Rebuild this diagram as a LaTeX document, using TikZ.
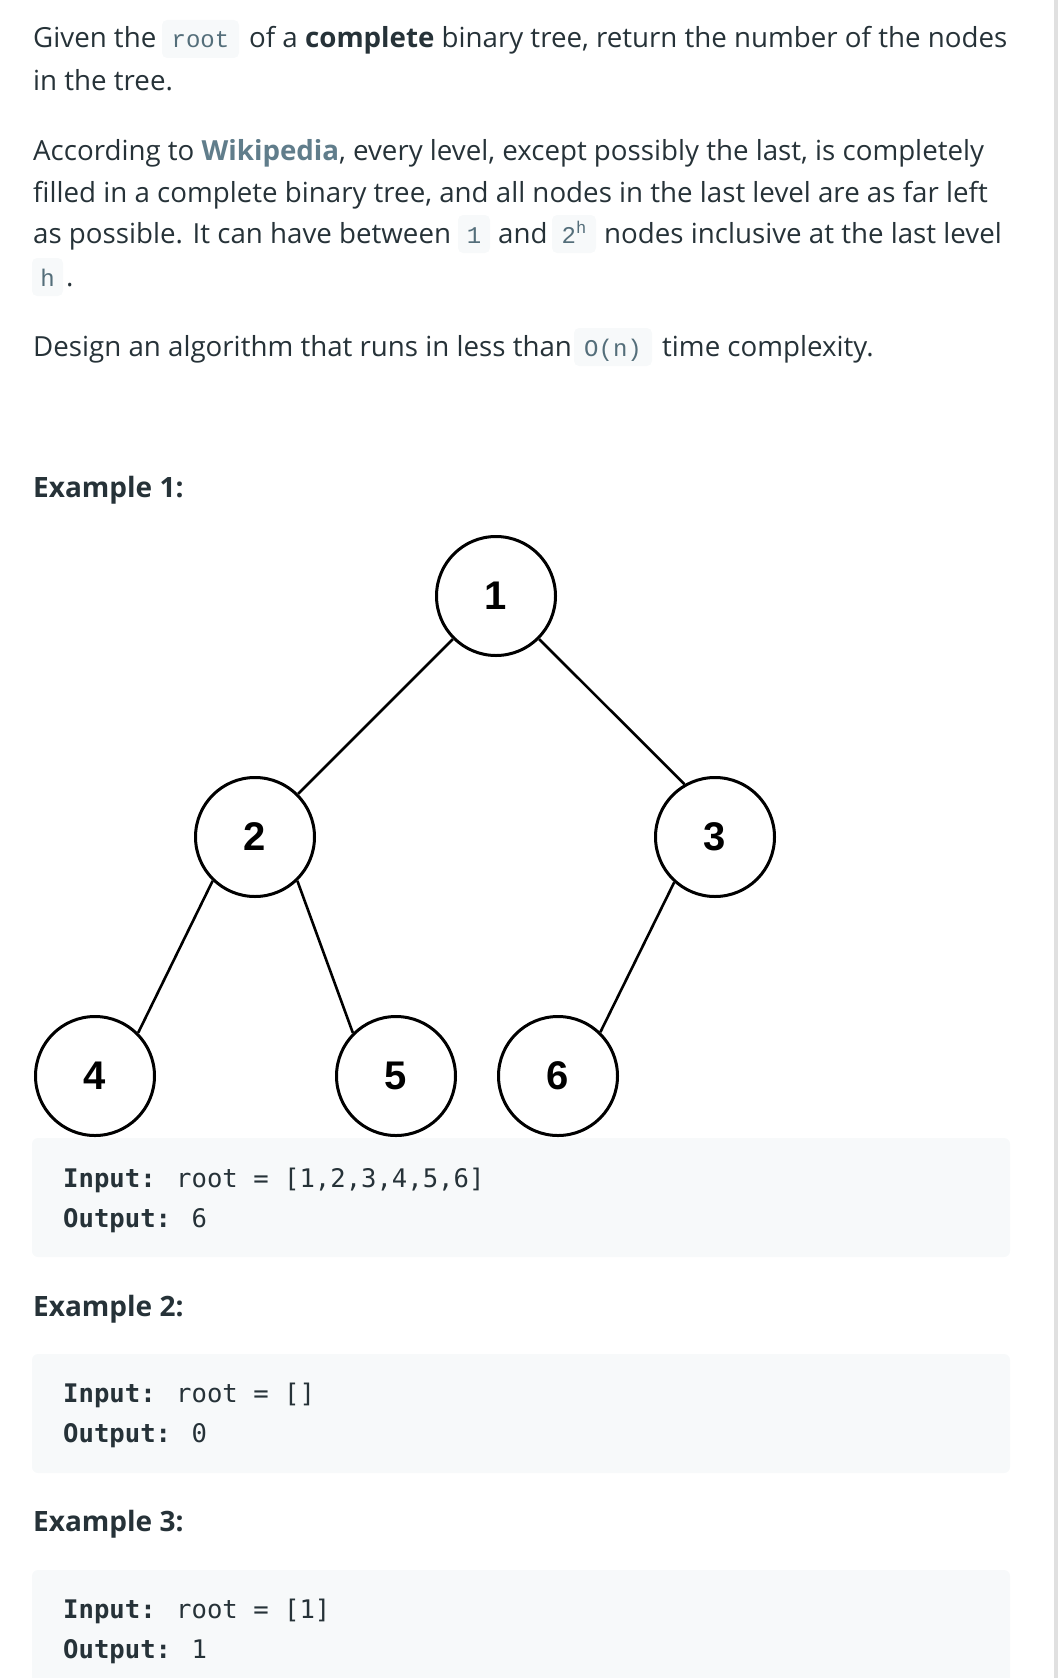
\documentclass[tikz,border=0pt]{standalone}
\usepackage{fontspec}
\usepackage{tikz}
\usetikzlibrary{calc}
\newfontfamily\bodyfont{Open Sans}
\newfontfamily\labelfont{Liberation Sans}
\newfontfamily\blockfont{DejaVu Sans Mono}
\newfontfamily\inlinefont{Liberation Mono}
\definecolor{textcol}{HTML}{263238}
\definecolor{linkcol}{HTML}{607D8B}
\definecolor{inlinecol}{HTML}{546E7A}
\definecolor{codebg}{HTML}{F7F9FA}
\definecolor{barcol}{HTML}{E0E0E0}
\tikzset{
	body/.style={anchor=base west, inner sep=0pt, text=textcol, font=\bodyfont\fontsize{27.7}{30}\selectfont},
	heading/.style={body, font=\bodyfont\bfseries\fontsize{28}{30}\selectfont},
	inlinecode/.style={anchor=base, inner sep=0pt, text=inlinecol, font=\inlinefont\fontsize{24}{26}\selectfont},
	blockcode/.style={anchor=base west, inner sep=0pt, text=textcol, font=\blockfont\fontsize{25.6}{30}\selectfont},
	treenode/.style={circle, draw=black, line width=3pt, minimum size=119pt, inner sep=0pt, font=\labelfont\bfseries\fontsize{40}{40}\selectfont},
	treeedge/.style={draw=black, line width=2.6pt}
}
\newcommand{\drawInlineCode}[5]{
	\fill[codebg, rounded corners=5pt] (#1,#3-28) rectangle (#2,#3+10);
	\node[inlinecode] (#5) at ({(#1+#2)/2},#3) {#4};
}
\newcommand{\drawCodeBlock}[2]{
	\fill[codebg, rounded corners=6pt] (32,#1) rectangle (1010,#2);
}
\newcommand{\drawIO}[4]{
	\node[blockcode] (#4_In) at (63,#1) {\textbf{Input:} root = #3};
	\node[blockcode] (#4_Out) at (63,#1+40) {\textbf{Output:} #2};
}

\begin{document}
\begin{tikzpicture}[x=1pt, y=-1pt]

		\useasboundingbox (0,0) rectangle (1058,1678);
		\clip (0,0) rectangle (1058,1678);
		\fill[barcol] (1054,0) rectangle (1058,1678);

		% statement
		\node[body] (L1_A) at (33,48) {Given the};
		\drawInlineCode{162}{239}{48}{root}{C_root}
		\node[body] (L1_B) at (249,48) {of a \textbf{complete} binary tree, return the number of the nodes};
		\node[body] (L2) at (33,90) {in the tree.};
		\node[body] (L3) at (33,160) {According to \textbf{\color{linkcol}Wikipedia}, every level, except possibly the last, is completely};
		\node[body] (L4) at (33,202) {filled in a complete binary tree, and all nodes in the last level are as far left};
		\node[body] (L5_A) at (33,243) {as possible. It can have between};
		\drawInlineCode{458}{490}{243}{1}{C_one}
		\node[body] (L5_B) at (498,243) {and};
		\drawInlineCode{552}{596}{243}{2\raisebox{10pt}{\fontsize{17}{18}\selectfont h}}{C_pow}
		\node[body] (L5_C) at (604,243) {nodes inclusive at the last level};
		\drawInlineCode{32}{63}{286}{h}{C_h}
		\node[body] (L6) at (66,286) {.};
		\node[body] (L7_A) at (33,356) {Design an algorithm that runs in less than};
		\drawInlineCode{574}{652}{356}{O(n)}{C_on}
		\node[body] (L7_B) at (662,356) {time complexity.};

		% example 1
		\node[heading] (Ex1) at (33,497) {Example 1:};
		\node[treenode] (N1) at (496,596) {1};
		\node[treenode] (N2) at (255,837) {2};
		\node[treenode] (N3) at (715,837) {3};
		\node[treenode] (N4) at (95,1076) {4};
		\node[treenode] (N5) at (396,1076) {5};
		\node[treenode] (N6) at (558,1076) {6};
		\draw[treeedge] (N1.225) -- (N2.45);
		\draw[treeedge] (N1.-45) -- (N3.120);
		\draw[treeedge] (N2.226) -- (N4.45);
		\draw[treeedge] (N2.-46) -- (N5.135);
		\draw[treeedge] (N3.228) -- (N6.46);
		\drawCodeBlock{1138}{1257}
		\drawIO{1187}{6}{[1,2,3,4,5,6]}{Ex1}

		% example 2
		\node[heading] (Ex2) at (33,1316) {Example 2:};
		\drawCodeBlock{1354}{1473}
		\drawIO{1402}{0}{[]}{Ex2}

		% example 3
		\node[heading] (Ex3) at (33,1531) {Example 3:};
		\drawCodeBlock{1570}{1689}
		\drawIO{1618}{1}{[1]}{Ex3}

	\end{tikzpicture}
\end{document}
